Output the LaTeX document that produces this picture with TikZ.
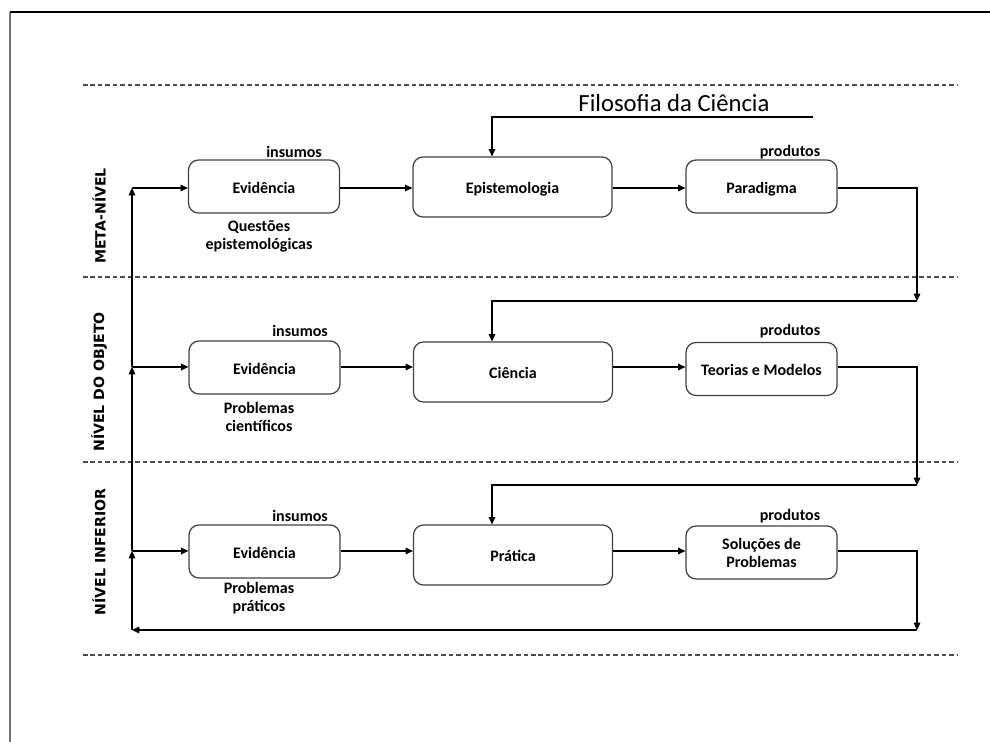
\documentclass[tikz,border=0pt]{standalone}
\usepackage{fontspec}
\setmainfont{Carlito}
\newfontfamily\sidefont{DejaVu Sans}
\usetikzlibrary{arrows.meta,calc}

\tikzset{
  stagebox/.style={draw=black!75, line width=0.9pt, rounded corners=7.5pt,
    font=\bfseries\fontsize{12}{13.5}\selectfont, inner sep=0pt},
  oneline/.style={text height=10.5pt, text depth=0.5pt},
  twolines/.style={align=center},
  narrowbox/.style={stagebox, minimum width=113.25pt, minimum height=39.75pt},
  widebox/.style={stagebox, minimum width=149.25pt, minimum height=45pt},
  tag/.style={font=\bfseries\fontsize{12}{13.5}\selectfont, align=center, inner sep=0pt},
  levellabel/.style={font=\sidefont\bfseries\fontsize{10.6}{12}\selectfont, rotate=90, inner sep=0pt},
  flow/.style={draw=black, line width=0.9pt, -{Triangle[length=5.5pt,width=5pt]}},
  sep/.style={draw=black!70, line width=0.8pt, dash pattern=on 3.4pt off 2.2pt},
}

\begin{document}
\begin{tikzpicture}[x=0.75pt,y=-0.75pt]
  \useasboundingbox (0,0) rectangle (990,742);

  % page frame (left and top edges)
  \draw[black!55, line width=1.5pt] (10,12) -- (10,742);
  \draw[black, line width=1.1pt] (10,12) -- (990,12);

  % level separators
  \draw[sep] (83,85) -- (958,85);
  \draw[sep] (83,277) -- (958,277);
  \draw[sep] (83,462) -- (958,462);
  \draw[sep] (83,655) -- (958,655);

  % level names
  \node[levellabel] (lvl1) at (99,216) {META-NÍVEL};
  \node[levellabel] (lvl2) at (99,382) {NÍVEL DO OBJETO};
  \node[levellabel] (lvl3) at (99,552) {NÍVEL INFERIOR};

  % heading
  \node[font=\fontsize{18.5}{20}\selectfont, inner sep=0pt] (fil) at (674,103) {Filosofia da Ciência};

  % row levels for the horizontal flows
  \coordinate (r1) at (0,188);
  \coordinate (r2) at (0,367);
  \coordinate (r3) at (0,551);

  % meta level
  \node[narrowbox, oneline] (ev1) at (264,186.5) {Evidência};
  \node[widebox, oneline]   (epi) at (512.5,187) {Epistemologia};
  \node[narrowbox, oneline] (par) at (761.5,186.5) {Paradigma};
  \node[tag] (ins1) at (294,152) {insumos};
  \node[tag] (pro1) at (790,152) {produtos};
  \node[tag] (q1) at (259,236) {Questões\\epistemológicas};

  % object level
  \node[narrowbox, oneline] (ev2) at (264.5,367.5) {Evidência};
  \node[widebox, oneline]   (ci)  at (513,372) {Ciência};
  \node[narrowbox, oneline] (teo) at (761.5,369) {Teorias e Modelos};
  \node[tag] (ins2) at (300,331) {insumos};
  \node[tag] (pro2) at (790,331) {produtos};
  \node[tag] (q2) at (259,417) {Problemas\\científicos};

  % lower level
  \node[narrowbox, oneline] (ev3) at (264.5,551.5) {Evidência};
  \node[widebox, oneline]   (pra) at (513,555) {Prática};
  \node[narrowbox, twolines] (sol) at (761.5,552.5) {Soluções de\\Problemas};
  \node[tag] (ins3) at (300,516) {insumos};
  \node[tag] (pro3) at (790,516) {produtos};
  \node[tag] (q3) at (259,598) {Problemas\\práticos};

  % horizontal flows inside each level
  \draw[flow] (ev1.east |- r1) -- (epi.west |- r1);
  \draw[flow] (epi.east |- r1) -- (par.west |- r1);
  \draw[flow] (ev2.east |- r2) -- (ci.west |- r2);
  \draw[flow] (ci.east |- r2) -- (teo.west |- r2);
  \draw[flow] (ev3.east |- r3) -- (pra.west |- r3);
  \draw[flow] (pra.east |- r3) -- (sol.west |- r3);

  % philosophy of science feeding epistemology
  \coordinate (fsR) at (813,117);
  \coordinate (fsL) at (492,117);
  \draw[flow] (fsR) -- (fsL) -- (fsL |- epi.north);

  % products passed down one level
  \coordinate (d1) at (917,301);
  \coordinate (d2) at (917,485);
  \coordinate (d3) at (917,630);
  \draw[flow] (par.east |- r1) -| (d1);
  \draw[flow] (d1) -- (d1 -| fsL) -- (fsL |- ci.north);
  \draw[flow] (teo.east |- r2) -| (d2);
  \draw[flow] (d2) -- (d2 -| fsL) -- (fsL |- pra.north);
  \draw[flow] (sol.east |- r3) -| (d3);

  % feedback to the evidence of every level
  \coordinate (lb) at (132,630);
  \coordinate (j3) at (132,551);
  \coordinate (j2) at (132,367);
  \coordinate (j1) at (132,188);
  \draw[flow] (d3) -- (lb);
  \draw[flow] (lb) -- (j3);
  \draw[flow] (j3) -- (ev3.west |- j3);
  \draw[flow] (j3) -- (j2);
  \draw[flow] (j2) -- (ev2.west |- j2);
  \draw[flow] (j2) -- (j1);
  \draw[flow] (j1) -- (ev1.west |- j1);
\end{tikzpicture}
\end{document}
